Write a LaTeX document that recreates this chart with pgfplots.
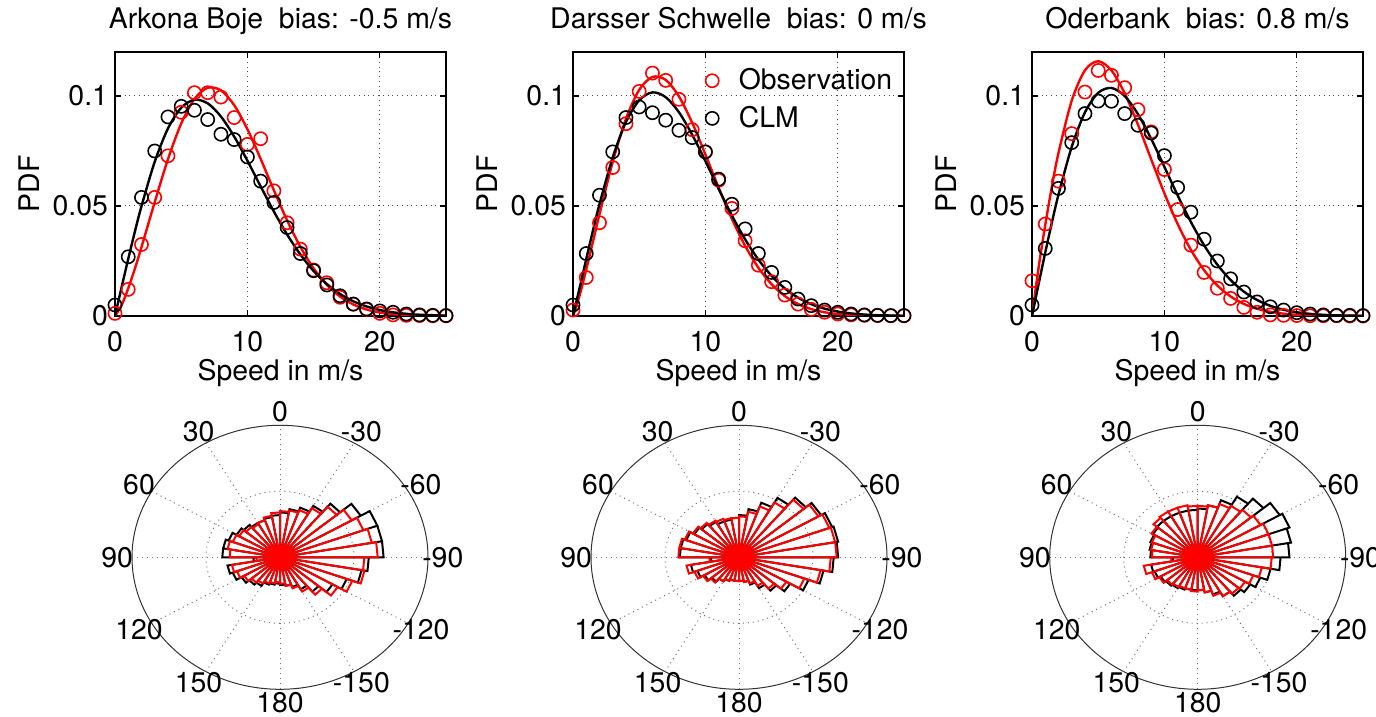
\documentclass[border=0pt]{standalone}
\usepackage{fontspec}
\setmainfont{TeX Gyre Heros}
\usepackage{pgfplots}
\usepackage{pgfplotstable}
\pgfplotsset{compat=1.18}
\newcommand\fs{\fontsize{14.2bp}{17bp}\selectfont}

% ---------- measured points (speed, observation, CLM) ----------
\pgfplotstableread{
x obs clm
0 0.0012 0.0050
1 0.0121 0.0269
2 0.0325 0.0539
3 0.0539 0.0750
4 0.0728 0.0905
5 0.0926 0.0953
6 0.1015 0.0935
7 0.1015 0.0893
8 0.0995 0.0826
9 0.0902 0.0802
10 0.0780 0.0723
11 0.0806 0.0613
12 0.0569 0.0516
13 0.0424 0.0402
14 0.0304 0.0284
15 0.0209 0.0206
16 0.0151 0.0141
17 0.0085 0.0092
18 0.0054 0.0054
19 0.0030 0.0032
20 0.0012 0.0023
21 0.0005 0.0017
22 0.0003 0.0009
23 0.0002 0.0005
24 0.0001 0.0003
25 0.0001 0.0002
}\ptsA
\pgfplotstableread{
x obs clm
0 0.0027 0.0050
1 0.0175 0.0284
2 0.0424 0.0549
3 0.0675 0.0746
4 0.0874 0.0902
5 0.1021 0.0950
6 0.1104 0.0924
7 0.1071 0.0890
8 0.0985 0.0844
9 0.0847 0.0811
10 0.0746 0.0746
11 0.0617 0.0622
12 0.0489 0.0508
13 0.0342 0.0396
14 0.0231 0.0284
15 0.0156 0.0198
16 0.0095 0.0130
17 0.0054 0.0077
18 0.0030 0.0047
19 0.0017 0.0027
20 0.0009 0.0017
21 0.0005 0.0009
22 0.0003 0.0005
23 0.0002 0.0003
24 0.0001 0.0002
25 0.0001 0.0002
}\ptsB
\pgfplotstableread{
x obs clm
0 0.0160 0.0050
1 0.0418 0.0307
2 0.0613 0.0580
3 0.0829 0.0788
4 0.1018 0.0920
5 0.1116 0.0977
6 0.1094 0.0976
7 0.1038 0.0920
8 0.0938 0.0867
9 0.0837 0.0832
10 0.0666 0.0729
11 0.0484 0.0584
12 0.0322 0.0472
13 0.0198 0.0349
14 0.0126 0.0250
15 0.0080 0.0169
16 0.0039 0.0109
17 0.0017 0.0064
18 0.0005 0.0042
19 0.0003 0.0027
20 0.0002 0.0015
21 0.0001 0.0009
22 0.0001 0.0005
23 0.0001 0.0003
24 0.0000 0.0003
25 0.0000 0.0002
}\ptsC

% ---------- fitted curves (speed, observation fit, CLM fit) ----------
\pgfplotstableread{
x red blk
0 0 0
0.5 0.00494 0.01311
1 0.01254 0.02596
1.5 0.02149 0.03830
2 0.03128 0.04991
3 0.05175 0.07010
4 0.07126 0.08524
5 0.08748 0.09466
6 0.09866 0.09830
7 0.10373 0.09666
8 0.10257 0.09069
9 0.09586 0.08158
10 0.08493 0.07061
11 0.07143 0.05892
12 0.05714 0.04750
13 0.04347 0.03704
14 0.03146 0.02797
15 0.02166 0.02046
16 0.01419 0.01452
17 0.00884 0.01000
18 0.00524 0.00668
19 0.00295 0.00434
20 0.00158 0.00273
21 0.00080 0.00167
22 0.00039 0.00100
23 0.00018 0.00058
25 0.00003 0.00018
}\fitA
\pgfplotstableread{
x red blk
0 0 0
0.5 0.00939 0.01280
1 0.02113 0.02589
1.5 0.03363 0.03867
2 0.04625 0.05080
3 0.07007 0.07210
4 0.08960 0.08816
5 0.10280 0.09806
6 0.10867 0.10164
7 0.10733 0.09948
8 0.09983 0.09262
9 0.08786 0.08245
10 0.07341 0.07040
11 0.05834 0.05778
12 0.04418 0.04569
13 0.03189 0.03484
14 0.02196 0.02565
15 0.01444 0.01824
16 0.00906 0.01253
17 0.00544 0.00833
18 0.00311 0.00536
19 0.00170 0.00334
20 0.00089 0.00201
21 0.00044 0.00117
22 0.00021 0.00066
23 0.00010 0.00037
25 0.00002 0.00010
}\fitB
\pgfplotstableread{
x red blk
0 0 0
0.5 0.02207 0.01457
1 0.04138 0.02882
1.5 0.05878 0.04245
2 0.07412 0.05516
3 0.09788 0.07691
4 0.11169 0.09257
5 0.11581 0.10144
6 0.11162 0.10366
7 0.10122 0.09999
8 0.08701 0.09177
9 0.07125 0.08053
10 0.05575 0.06777
11 0.04181 0.05484
12 0.03008 0.04274
13 0.02081 0.03213
14 0.01385 0.02332
15 0.00888 0.01635
16 0.00549 0.01108
17 0.00327 0.00727
18 0.00188 0.00461
19 0.00105 0.00283
20 0.00056 0.00169
21 0.00029 0.00097
22 0.00015 0.00054
23 0.00008 0.00029
25 0.00002 0.00008
}\fitC

% ---------- rose: one radius per 10-degree bin (math angle 0,10,...,350) ----------
\newcommand\rose[2]{%
  \gdef\rosepts{}%
  \foreach \rv [count=\i from 0] in {#2} {%
    \pgfmathtruncatemacro\angA{\i*10}%
    \pgfmathtruncatemacro\angB{\i*10+10}%
    \xdef\rosepts{\rosepts (0,0) (\angA,\rv) (\angB,\rv)}%
  }%
  \edef\rosetmp{\noexpand\addplot[#1, data cs=polar] coordinates {\rosepts (0,0)};}%
  \rosetmp
}
\newcommand\rosegrid{%
  \draw[black!80, line width=0.5bp] (axis cs:0,0) ellipse [x radius=74bp, y radius=66bp];
  \draw[black!55, dotted, line width=0.5bp] (axis cs:0,0) ellipse [x radius=37bp, y radius=33bp];
  \draw[black!55, dotted, line width=0.5bp] (axis cs:-1,0) -- (axis cs:1,0);
  \draw[black!55, dotted, line width=0.5bp] (axis cs:0,-1) -- (axis cs:0,1);
  \draw[black!55, dotted, line width=0.5bp] (axis cs:-0.866,-0.5) -- (axis cs:0.866,0.5);
  \draw[black!55, dotted, line width=0.5bp] (axis cs:-0.866,0.5) -- (axis cs:0.866,-0.5);
  \draw[black!55, dotted, line width=0.5bp] (axis cs:-0.5,-0.866) -- (axis cs:0.5,0.866);
  \draw[black!55, dotted, line width=0.5bp] (axis cs:-0.5,0.866) -- (axis cs:0.5,-0.866);
  \node at (axis cs:1.1,0) {-90};
  \node at (axis cs:0.9526,0.55) {-60};
  \node at (axis cs:0.55,0.9526) {-30};
  \node at (axis cs:0,1.1) {0};
  \node at (axis cs:-0.55,0.9526) {30};
  \node at (axis cs:-0.9526,0.55) {60};
  \node at (axis cs:-1.1,0) {90};
  \node at (axis cs:-0.9526,-0.55) {120};
  \node at (axis cs:-0.55,-0.9526) {150};
  \node at (axis cs:0,-1.1) {180};
  \node at (axis cs:0.55,-0.9526) {-150};
  \node at (axis cs:0.9526,-0.55) {-120};
}

\pgfplotsset{
  pdfpanel/.style={
    scale only axis, width=165.5bp, height=132bp, anchor=south west,
    xmin=0, xmax=25, ymin=0, ymax=0.12,
    xtick={0,10,20}, xticklabels={0,10,20},
    ytick={0,0.05,0.1}, yticklabels={0,0.05,0.1},
    tick align=inside, major tick length=3bp,
    grid=major, grid style={dotted, black!70, line width=0.5bp},
    axis line style={line width=0.9bp},
    tick style={line width=0.6bp, black},
    font=\fs, tick label style={font=\fs},
    xticklabel style={anchor=base, yshift=-17.9bp},
    xlabel={Speed in m/s}, ylabel={PDF},
    every axis x label/.style={at={(rel axis cs:0.5,0)}, anchor=base, yshift=-32.5bp, font=\fs},
    every axis y label/.style={at={(rel axis cs:0,0.5)}, xshift=-43bp, rotate=90, anchor=center, font=\fs},
    every axis title/.style={at={(rel axis cs:0.5,1)}, anchor=base, yshift=11.6bp, font=\fs},
  },
  obs/.style={only marks, mark=o, red, mark size=3.3bp, mark options={line width=0.8bp},
    legend image code/.code={\draw[mark repeat=2,mark phase=2,##1] plot coordinates {(0bp,0bp) (7bp,0bp) (14bp,0bp)};}},
  clm/.style={only marks, mark=o, black, mark size=3.3bp, mark options={line width=0.8bp},
    legend image code/.code={\draw[mark repeat=2,mark phase=2,##1] plot coordinates {(0bp,0bp) (7bp,0bp) (14bp,0bp)};}},
  fitr/.style={red, line width=1.2bp, smooth, no marks, forget plot},
  fitk/.style={black, line width=1.2bp, smooth, no marks, forget plot},
  roseaxis/.style={anchor=origin, x=74bp, y=66bp, xmin=-1.2, xmax=1.2, ymin=-1.2, ymax=1.2,
    hide axis, clip=false, font=\fs},
}

\begin{document}
\begin{tikzpicture}
% ===== top row =====
\begin{axis}[pdfpanel, at={(57.5bp,200.5bp)}, title={Arkona Boje\ \ bias: -0.5 m/s}]
\addplot[obs] table[x=x, y=obs] {\ptsA};
\addplot[clm] table[x=x, y=clm] {\ptsA};
\addplot[fitr] table[x=x, y=red] {\fitA};
\addplot[fitk] table[x=x, y=blk] {\fitA};
\end{axis}

\begin{axis}[pdfpanel, at={(286.5bp,200.5bp)}, title={Darsser Schwelle\ \ bias: 0 m/s},
  legend style={draw=none, fill=none, at={(0.4006,0.952)}, anchor=north west,
    inner sep=0pt, outer sep=0pt, nodes={inner sep=2bp, font=\fs}, row sep=2.7bp,
    /tikz/every odd column/.append style={column sep=8bp}},
  legend cell align=left]
\addplot[obs] table[x=x, y=obs] {\ptsB};
\addlegendentry{Observation}
\addplot[clm] table[x=x, y=clm] {\ptsB};
\addlegendentry{CLM}
\addplot[fitr] table[x=x, y=red] {\fitB};
\addplot[fitk] table[x=x, y=blk] {\fitB};
\end{axis}

\begin{axis}[pdfpanel, at={(516bp,200.5bp)}, title={Oderbank\ \ bias: 0.8 m/s}]
\addplot[obs] table[x=x, y=obs] {\ptsC};
\addplot[clm] table[x=x, y=clm] {\ptsC};
\addplot[fitr] table[x=x, y=red] {\fitC};
\addplot[fitk] table[x=x, y=blk] {\fitC};
\end{axis}

% ===== bottom row: direction roses =====
\begin{axis}[roseaxis, at={(140bp,79.85bp)}]
\rosegrid
\rose{black, line width=1bp}{0.70,0.70,0.70,0.63,0.53,0.45,0.40,0.37,0.34,0.32,0.31,0.30,0.30,0.32,0.34,0.37,0.39,0.39,0.18,0.36,0.34,0.30,0.27,0.25,0.22,0.21,0.20,0.21,0.22,0.24,0.28,0.34,0.41,0.48,0.56,0.60}
\rose{red, line width=1bp}{0.66,0.63,0.60,0.56,0.50,0.43,0.38,0.36,0.35,0.34,0.32,0.30,0.29,0.30,0.32,0.34,0.36,0.34,0.16,0.33,0.31,0.28,0.25,0.23,0.21,0.20,0.19,0.20,0.22,0.25,0.30,0.37,0.45,0.52,0.58,0.57}
\end{axis}

\begin{axis}[roseaxis, at={(369.5bp,79.85bp)}]
\rosegrid
\rose{black, line width=1bp}{0.67,0.68,0.67,0.64,0.59,0.52,0.44,0.37,0.32,0.30,0.29,0.29,0.31,0.33,0.35,0.38,0.40,0.40,0.19,0.33,0.30,0.27,0.24,0.21,0.19,0.18,0.18,0.18,0.19,0.22,0.27,0.33,0.40,0.50,0.58,0.64}
\rose{red, line width=1bp}{0.66,0.66,0.65,0.62,0.57,0.48,0.41,0.35,0.31,0.30,0.30,0.31,0.32,0.34,0.36,0.39,0.41,0.41,0.20,0.36,0.32,0.28,0.25,0.21,0.19,0.18,0.18,0.18,0.19,0.21,0.25,0.31,0.37,0.47,0.56,0.62}
\end{axis}

\begin{axis}[roseaxis, at={(598.85bp,79.85bp)}]
\rosegrid
\rose{black, line width=1bp}{0.62,0.64,0.66,0.64,0.58,0.53,0.46,0.40,0.37,0.36,0.36,0.36,0.36,0.36,0.35,0.34,0.33,0.32,0.17,0.32,0.31,0.29,0.28,0.27,0.26,0.25,0.25,0.25,0.27,0.30,0.34,0.38,0.41,0.45,0.50,0.56}
\rose{red, line width=1bp}{0.51,0.51,0.51,0.49,0.47,0.45,0.43,0.40,0.39,0.39,0.40,0.40,0.40,0.39,0.36,0.33,0.32,0.31,0.18,0.37,0.33,0.30,0.27,0.26,0.25,0.25,0.26,0.25,0.27,0.31,0.34,0.36,0.37,0.40,0.44,0.50}
\end{axis}

\pgfresetboundingbox
\path[use as bounding box] (0,0) rectangle (688bp,358.5bp);
\end{tikzpicture}
\end{document}
